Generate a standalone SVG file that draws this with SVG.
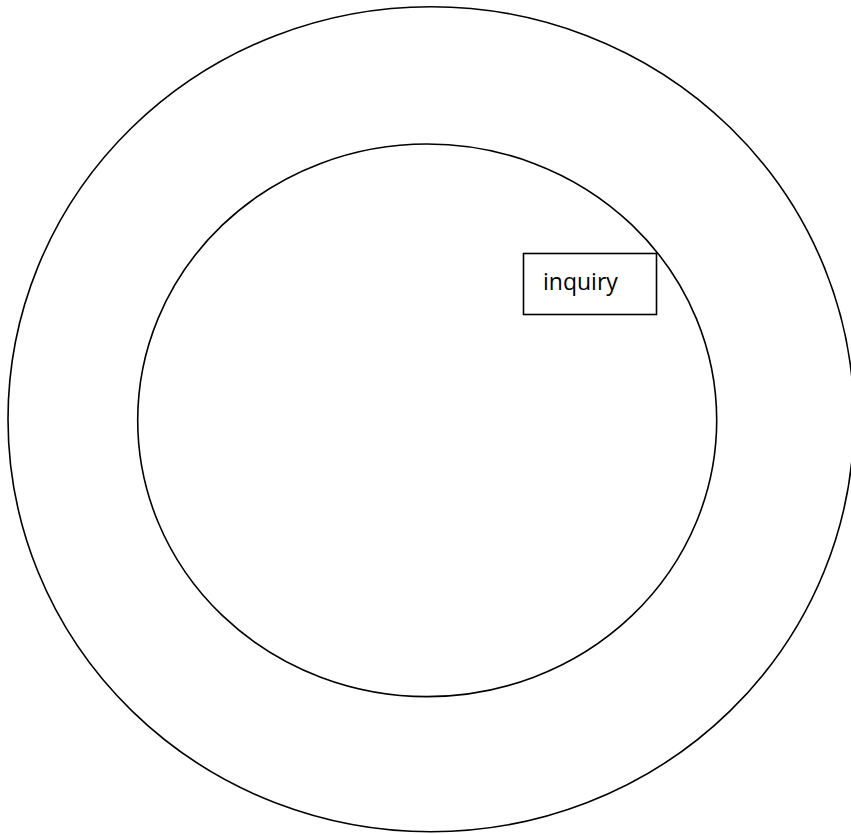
<svg xmlns="http://www.w3.org/2000/svg" width="851" height="834" viewBox="0 0 851 834">
<style>
.ring{fill:none;stroke:#000;stroke-width:1.6}
.box{fill:#fff;stroke:#000;stroke-width:1.6}
.lbl{font-family:"Open Sans","Noto Sans",sans-serif;font-size:23px;fill:#000}
</style>
<rect width="851" height="834" fill="#fff"/>
<g id="outer-circle"><ellipse class="ring" cx="431" cy="419.2" rx="423" ry="412.5"/></g>
<g id="inner-circle"><ellipse class="ring" cx="427.2" cy="420.3" rx="289.5" ry="276.3"/></g>
<g id="inquiry"><rect class="box" x="523.5" y="253.5" width="133" height="61"/><text class="lbl" x="543" y="290">inquiry</text></g>
<g id="connectors"/>
</svg>
